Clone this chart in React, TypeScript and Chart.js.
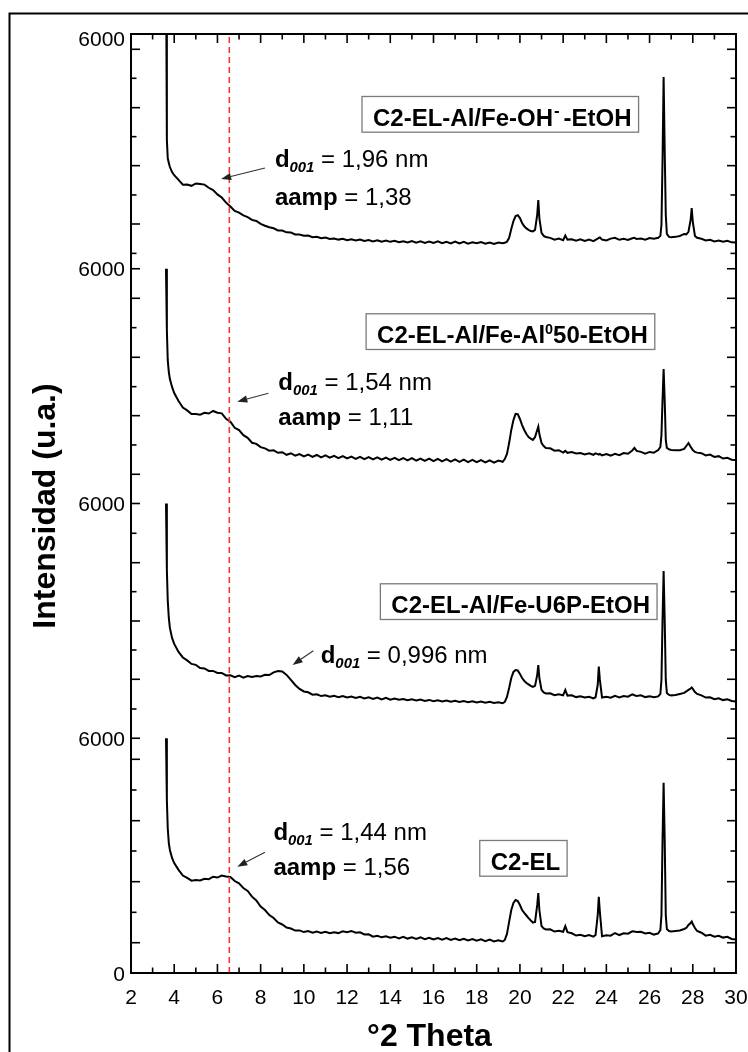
import React, { useEffect, useRef } from 'react';
import { Chart, registerables } from 'chart.js';

Chart.register(...registerables);

// ---------- data ----------
const twoTheta = [
  3.62, 3.66, 3.7, 3.75, 3.8, 3.9, 4.0,
  4.2, 4.4, 4.6, 4.8, 5.0, 5.2, 5.4, 5.6, 5.8, 6.0,
  6.2, 6.4, 6.6, 6.8, 7.0, 7.2, 7.4, 7.6, 7.8, 8.0,
  8.2, 8.4, 8.6, 8.8, 9.0, 9.2, 9.4, 9.6, 9.8, 10.0,
  10.2, 10.4, 10.6, 10.8, 11.0, 11.2, 11.4, 11.6, 11.8, 12.0,
  12.2, 12.4, 12.6, 12.8, 13.0, 13.2, 13.4, 13.6, 13.8, 14.0,
  14.2, 14.4, 14.6, 14.8, 15.0, 15.2, 15.4, 15.6, 15.8, 16.0,
  16.2, 16.4, 16.6, 16.8, 17.0, 17.2, 17.4, 17.6, 17.8, 18.0,
  18.2, 18.4, 18.6, 18.8, 19.0, 19.2,
  19.3, 19.4, 19.5, 19.6, 19.7, 19.8, 19.9, 20.0, 20.1, 20.2,
  20.3, 20.4, 20.5, 20.6, 20.7, 20.8, 20.85, 20.9, 21.0, 21.1, 21.2,
  21.4, 21.6, 21.8, 22.0, 22.1, 22.2, 22.4, 22.6, 22.8, 23.0,
  23.2, 23.4, 23.5, 23.6, 23.65, 23.7, 23.8, 24.0, 24.2, 24.4,
  24.6, 24.8, 25.0, 25.2, 25.3, 25.4, 25.6, 25.8, 26.0, 26.2,
  26.4, 26.5, 26.55, 26.6, 26.65, 26.7, 26.75, 26.8, 26.9, 27.0,
  27.2, 27.4, 27.6, 27.7, 27.8, 27.9, 27.95, 28.0, 28.1, 28.2,
  28.4, 28.6, 28.8, 29.0, 29.2, 29.4, 29.6, 29.8, 30.0,
];

// intensities of each pattern, relative to its own panel (stacked by seriesOffsets)
const intOH = [
  8000, 3300, 2830, 2700, 2600, 2470, 2390,
  2270, 2150, 2155, 2120, 2180, 2165, 2150, 2070, 2010, 1900,
  1820, 1690, 1590, 1480, 1435, 1365, 1320, 1250, 1220, 1145,
  1100, 1060, 1035, 980, 975, 930, 925, 878, 875, 842,
  850, 805, 818, 780, 800, 762, 775, 745, 765, 730,
  752, 722, 745, 708, 735, 700, 728, 690, 722, 688,
  712, 680, 705, 672, 710, 668, 700, 662, 698, 660,
  702, 655, 690, 650, 695, 645, 688, 640, 675, 652,
  680, 640, 672, 635, 668, 650,
  662, 690, 790, 1015, 1220, 1345, 1370, 1295, 1170, 1085,
  1030, 995, 962, 955, 995, 1380, 1755, 1290, 915, 840, 812,
  790, 745, 770, 730, 850, 745, 755, 715, 750, 708,
  745, 705, 740, 770, 790, 800, 745, 725, 770, 790,
  740, 765, 738, 780, 790, 760, 772, 742, 785, 765,
  790, 840, 1120, 2780, 4900, 3030, 1380, 890, 815, 805,
  815, 838, 890, 880, 945, 1250, 1550, 1195, 840, 790,
  765, 725, 740, 700, 720, 690, 712, 675, 672,
];

const intAl50 = [
  6000, 4430, 3670, 3360, 3180, 2980, 2825,
  2620, 2450, 2380, 2285, 2290, 2270, 2320, 2300, 2365, 2320,
  2305, 2165, 2090, 1935, 1875, 1745, 1680, 1552, 1525, 1440,
  1410, 1350, 1360, 1295, 1310, 1245, 1285, 1225, 1265, 1205,
  1250, 1192, 1240, 1178, 1228, 1170, 1218, 1160, 1210, 1152,
  1200, 1142, 1192, 1135, 1185, 1128, 1178, 1120, 1175, 1115,
  1168, 1108, 1160, 1100, 1158, 1095, 1150, 1090, 1145, 1085,
  1140, 1078, 1135, 1072, 1128, 1066, 1122, 1060, 1115, 1058,
  1108, 1050, 1102, 1045, 1098, 1065,
  1135, 1265, 1545, 1880, 2135, 2290, 2285, 2160, 2005, 1880,
  1775, 1700, 1660, 1625, 1700, 1880, 1965, 1775, 1545, 1470, 1420,
  1410, 1350, 1362, 1300, 1345, 1295, 1315, 1280, 1290, 1255,
  1285, 1245, 1280, 1262, 1250, 1268, 1230, 1262, 1225, 1272,
  1235, 1290, 1270, 1355, 1420, 1345, 1320, 1275, 1318, 1300,
  1368, 1445, 1750, 2650, 3440, 2645, 1625, 1420, 1385, 1370,
  1360, 1362, 1395, 1470, 1545, 1450, 1410, 1365, 1318, 1300,
  1285, 1230, 1250, 1190, 1210, 1150, 1170, 1118, 1112,
];

const intU6P = [
  6000, 4300, 3535, 3075, 2820, 2565, 2410,
  2205, 2065, 1990, 1900, 1875, 1795, 1785, 1720, 1720, 1668,
  1670, 1605, 1608, 1562, 1600, 1550, 1588, 1565, 1590, 1578,
  1620, 1615, 1685, 1718, 1705, 1620, 1490, 1362, 1260, 1196,
  1175, 1115, 1125, 1078, 1098, 1060, 1085, 1048, 1080, 1040,
  1068, 1030, 1060, 1018, 1048, 1005, 1042, 995, 1035, 985,
  1015, 985, 1005, 970, 995, 965, 988, 955, 980, 948,
  972, 940, 965, 935, 958, 928, 950, 920, 945, 915,
  938, 908, 930, 900, 922, 895,
  930, 1055, 1285, 1540, 1695, 1745, 1735, 1645, 1540, 1465,
  1412, 1375, 1338, 1310, 1338, 1620, 1870, 1540, 1235, 1170, 1145,
  1150, 1100, 1125, 1095, 1235, 1090, 1098, 1052, 1075, 1042,
  1062, 1018, 1048, 1360, 1830, 1490, 1040, 1062, 1035, 1082,
  1045, 1080, 1062, 1120, 1098, 1078, 1098, 1052, 1075, 1048,
  1070, 1132, 1490, 3025, 4275, 3025, 1490, 1158, 1108, 1096,
  1105, 1132, 1160, 1196, 1235, 1272, 1298, 1260, 1183, 1132,
  1095, 1040, 1048, 1000, 1022, 975, 998, 952, 940,
];

const intC2EL = [
  6000, 4420, 3705, 3320, 3145, 2940, 2810,
  2635, 2490, 2430, 2360, 2378, 2365, 2408, 2398, 2460, 2440,
  2492, 2468, 2455, 2350, 2290, 2170, 2098, 1952, 1855, 1698,
  1610, 1480, 1405, 1290, 1240, 1162, 1138, 1085, 1088, 1046,
  1070, 1030, 1062, 1025, 1055, 1015, 1040, 1020, 1065, 1045,
  1075, 1030, 1040, 985, 990, 930, 952, 912, 938, 900,
  928, 885, 922, 880, 915, 872, 910, 865, 902, 858,
  895, 850, 890, 845, 882, 838, 875, 830, 868, 825,
  860, 815, 852, 808, 835, 805,
  845, 998, 1305, 1610, 1790, 1865, 1840, 1738, 1610, 1535,
  1470, 1405, 1342, 1290, 1305, 1740, 2045, 1610, 1200, 1138, 1112,
  1115, 1060, 1080, 1055, 1200, 1045, 1015, 958, 978, 940,
  968, 930, 970, 1480, 1950, 1560, 940, 962, 955, 1022,
  970, 1015, 1005, 1065, 1062, 1045, 1052, 1010, 1028, 982,
  1010, 1100, 1480, 3400, 4865, 3400, 1480, 1125, 1074, 1062,
  1074, 1085, 1125, 1150, 1228, 1278, 1315, 1252, 1150, 1074,
  1030, 955, 975, 930, 952, 905, 925, 870, 856,
];

const seriesValues = [intOH, intAl50, intU6P, intC2EL];
const seriesNames = ['C2-EL-Al/Fe-OH⁻-EtOH', 'C2-EL-Al/Fe-Al⁰50-EtOH', 'C2-EL-Al/Fe-U6P-EtOH', 'C2-EL'];
const seriesOffsets = [18000, 12000, 6000, 0];

const xMajorTicks = [2, 4, 6, 8, 10, 12, 14, 16, 18, 20, 22, 24, 26, 28, 30];
const xTickLabels = ['2', '4', '6', '8', '10', '12', '14', '16', '18', '20', '22', '24', '26', '28', '30'];
const xMinorTicks = [3, 5, 7, 9, 11, 13, 15, 17, 19, 21, 23, 25, 27, 29];
const yMajorTicks = [0, 6000, 12000, 18000, 24000];
const yTickLabels = ['0', '6000', '6000', '6000', '6000'];
const yMinorTicks = [
  774, 1551, 2334, 3118, 3893, 4677, 5462,
  6748, 7507, 8256, 8997, 9746, 10487, 11239,
  12747, 13496, 14245, 14986, 15737, 16494, 17245,
  18393, 19144, 19886, 20635, 21376, 22117, 22868, 23609,
];

const d001LineX = [6.55, 6.55];
const d001LineY = [0, 24000];

const xTitle = '°2 Theta';
const yTitle = 'Intensidad (u.a.)';

type Part = { t: string; b?: boolean; i?: boolean; s?: number; dy?: number; pl?: number; pr?: number };

const dParts = (value: string): Part[] => [
  { t: 'd', b: true },
  { t: '001', b: true, i: true, s: 0.62, dy: 0.22 },
  { t: ' = ' + value },
];
const aParts = (value: string): Part[] => [{ t: 'aamp', b: true }, { t: ' = ' + value }];

// text anchors in data coordinates (2θ, stacked intensity): left edge / baseline
const annotationTexts = [
  { x: 8.66, y: 20609, parts: dParts('1,96 nm') },
  { x: 8.66, y: 19630, parts: aParts('1,38') },
  { x: 8.82, y: 14901, parts: dParts('1,54 nm') },
  { x: 8.82, y: 14007, parts: aParts('1,11') },
  { x: 10.78, y: 7924, parts: dParts('0,996 nm') },
  { x: 8.59, y: 3399, parts: dParts('1,44 nm') },
  { x: 8.59, y: 2505, parts: aParts('1,56') },
];

const boxLabels = [
  { x: 13.2, y: 21649, parts: [{ t: 'C2-EL-Al/Fe-OH', b: true }, { t: '-', b: true, s: 0.7, dy: -0.42, pl: 1, pr: 4 }, { t: '-EtOH', b: true }] as Part[] },
  { x: 13.39, y: 16095, parts: [{ t: 'C2-EL-Al/Fe-Al', b: true }, { t: '0', b: true, s: 0.6, dy: -0.38 }, { t: '50-EtOH', b: true }] as Part[] },
  { x: 14.05, y: 9194, parts: [{ t: 'C2-EL-Al/Fe-U6P-EtOH', b: true }] as Part[] },
  { x: 18.65, y: 2633, parts: [{ t: 'C2-EL', b: true }] as Part[] },
];

const arrows = [
  { from: [8.2, 20576], to: [6.17, 20295] },
  { from: [8.36, 14817], to: [6.92, 14603] },
  { from: [10.44, 8238], to: [9.48, 7872] },
  { from: [8.2, 3085], to: [6.92, 2717] },
];

// ---------- drawing helpers ----------
const FONT = '"Liberation Sans", Arial, Helvetica, sans-serif';

function partFont(p: Part, size: number) {
  const fs = size * (p.s ?? 1);
  return `${p.i ? 'italic ' : ''}${p.b ? 'bold ' : ''}${fs}px ${FONT}`;
}
function measureParts(ctx: CanvasRenderingContext2D, parts: Part[], size: number) {
  let w = 0;
  for (const p of parts) {
    ctx.font = partFont(p, size);
    w += (p.pl ?? 0) + ctx.measureText(p.t).width + (p.pr ?? 0);
  }
  return w;
}
function drawParts(ctx: CanvasRenderingContext2D, x: number, y: number, parts: Part[], size: number) {
  let cx = x;
  ctx.textAlign = 'left';
  ctx.textBaseline = 'alphabetic';
  for (const p of parts) {
    ctx.font = partFont(p, size);
    cx += p.pl ?? 0;
    ctx.fillText(p.t, cx, y + (p.dy ?? 0) * size);
    cx += ctx.measureText(p.t).width + (p.pr ?? 0);
  }
  return cx - x;
}

const decorPlugin = {
  id: 'xrdDecor',
  afterDraw(chart: any) {
    const ctx: CanvasRenderingContext2D = chart.ctx;
    const { left, right, top, bottom } = chart.chartArea;
    const xs = chart.scales.x;
    const ys = chart.scales.y;
    ctx.save();

    // outer figure frame (top and left edges visible)
    ctx.strokeStyle = '#000';
    ctx.lineWidth = 2;
    ctx.beginPath();
    ctx.moveTo(9.5, 1060);
    ctx.lineTo(9.5, 13.5);
    ctx.lineTo(760, 13.5);
    ctx.stroke();

    // plot frame
    ctx.lineWidth = 2;
    ctx.strokeRect(left, top, right - left, bottom - top);

    // ticks (inward)
    ctx.lineWidth = 1.6;
    const line = (x1: number, y1: number, x2: number, y2: number) => {
      ctx.beginPath();
      ctx.moveTo(x1, y1);
      ctx.lineTo(x2, y2);
      ctx.stroke();
    };
    const LONG = 9;
    const SHORT = 5.5;
    xMajorTicks.forEach((v) => {
      const px = xs.getPixelForValue(v);
      line(px, bottom, px, bottom - LONG);
      line(px, top, px, top + LONG);
    });
    xMinorTicks.forEach((v) => {
      const px = xs.getPixelForValue(v);
      line(px, bottom, px, bottom - SHORT);
      line(px, top, px, top + SHORT);
    });
    yMajorTicks.forEach((v) => {
      const py = ys.getPixelForValue(v);
      line(left, py, left + LONG, py);
      line(right, py, right - LONG, py);
    });
    yMinorTicks.forEach((v, i) => {
      const py = ys.getPixelForValue(v);
      const len = i % 2 === 0 ? LONG : SHORT;
      line(left, py, left + len, py);
      line(right, py, right - len, py);
    });

    // tick labels
    ctx.fillStyle = '#000';
    ctx.font = `21px ${FONT}`;
    ctx.textBaseline = 'alphabetic';
    ctx.textAlign = 'right';
    yMajorTicks.forEach((v, i) => {
      const py = ys.getPixelForValue(v);
      ctx.fillText(yTickLabels[i], left - 6, Math.max(py + 7.5, top + 11.5));
    });
    ctx.textAlign = 'center';
    xMajorTicks.forEach((v, i) => {
      const px = xs.getPixelForValue(v);
      ctx.fillText(xTickLabels[i], px, bottom + 30.5);
    });

    // axis titles
    ctx.font = `bold 32px ${FONT}`;
    ctx.textAlign = 'center';
    ctx.fillText(xTitle, (left + right) / 2 - 4, bottom + 73);
    ctx.save();
    ctx.translate(55, (top + bottom) / 2 + 2.5);
    ctx.rotate(-Math.PI / 2);
    ctx.fillText(yTitle, 0, 0);
    ctx.restore();

    // annotation texts
    annotationTexts.forEach((a) => {
      drawParts(ctx, xs.getPixelForValue(a.x), ys.getPixelForValue(a.y), a.parts, 24);
    });

    // boxed sample labels
    boxLabels.forEach((b) => {
      const px = xs.getPixelForValue(b.x);
      const py = ys.getPixelForValue(b.y);
      const w = measureParts(ctx, b.parts, 24);
      ctx.fillStyle = '#fff';
      ctx.fillRect(px - 11, py - 29.5, w + 18, 35.7);
      ctx.strokeStyle = '#7a7a7a';
      ctx.lineWidth = 1.3;
      ctx.strokeRect(px - 11, py - 29.5, w + 18, 35.7);
      ctx.fillStyle = '#000';
      drawParts(ctx, px, py, b.parts, 24);
    });

    // arrows
    ctx.strokeStyle = '#333';
    ctx.fillStyle = '#222';
    ctx.lineWidth = 1.1;
    arrows.forEach((a) => {
      const x1 = xs.getPixelForValue(a.from[0]);
      const y1 = ys.getPixelForValue(a.from[1]);
      const x2 = xs.getPixelForValue(a.to[0]);
      const y2 = ys.getPixelForValue(a.to[1]);
      const ang = Math.atan2(y2 - y1, x2 - x1);
      const hl = 10;
      const hw = 3.6;
      const bx = x2 - hl * Math.cos(ang);
      const by = y2 - hl * Math.sin(ang);
      line(x1, y1, bx, by);
      ctx.beginPath();
      ctx.moveTo(x2, y2);
      ctx.lineTo(bx + hw * Math.sin(ang), by - hw * Math.cos(ang));
      ctx.lineTo(bx - hw * Math.sin(ang), by + hw * Math.cos(ang));
      ctx.closePath();
      ctx.fill();
    });

    ctx.restore();
  },
};

export default function App() {
  const canvasRef = useRef<HTMLCanvasElement | null>(null);

  useEffect(() => {
    const canvas = canvasRef.current;
    if (!canvas) return;

    const refDataset = {
      label: 'd001',
      data: d001LineX.map((x, i) => ({ x, y: d001LineY[i] })),
      borderColor: '#f5333a',
      borderWidth: 1.6,
      borderDash: [6, 4],
      pointRadius: 0,
      fill: false,
    };
    const patternDatasets = seriesValues.map((vals, k) => ({
      label: seriesNames[k],
      data: twoTheta.map((x, i) => ({ x, y: vals[i] + seriesOffsets[k] })),
      borderColor: '#000',
      borderWidth: 2,
      pointRadius: 0,
      tension: 0,
      fill: false,
    }));

    const chart = new Chart(canvas, {
      type: 'line',
      data: { datasets: [refDataset, ...patternDatasets] as any },
      options: {
        animation: false,
        responsive: false,
        devicePixelRatio: 1,
        events: [],
        layout: { padding: { top: 34, right: 12, left: 0, bottom: 0 } },
        plugins: { legend: { display: false }, tooltip: { enabled: false } },
        scales: {
          x: {
            type: 'linear',
            min: 2,
            max: 30,
            grid: { display: false, drawTicks: false },
            border: { display: false },
            ticks: { display: false },
            afterBuildTicks: (s: any) => {
              s.ticks = xMajorTicks.map((value) => ({ value }));
            },
            afterFit: (s: any) => {
              s.height = 79;
            },
          },
          y: {
            type: 'linear',
            min: 0,
            max: 24000,
            grid: { display: false, drawTicks: false },
            border: { display: false },
            ticks: { display: false },
            afterBuildTicks: (s: any) => {
              s.ticks = yMajorTicks.map((value) => ({ value }));
            },
            afterFit: (s: any) => {
              s.width = 131;
            },
          },
        },
      } as any,
      plugins: [decorPlugin],
    });

    return () => chart.destroy();
  }, []);

  return (
    <div style={{ position: 'fixed', left: 0, top: 0, width: 748, height: 1052, background: '#fff' }}>
      <canvas ref={canvasRef} width={748} height={1052} style={{ display: 'block' }} />
    </div>
  );
}
